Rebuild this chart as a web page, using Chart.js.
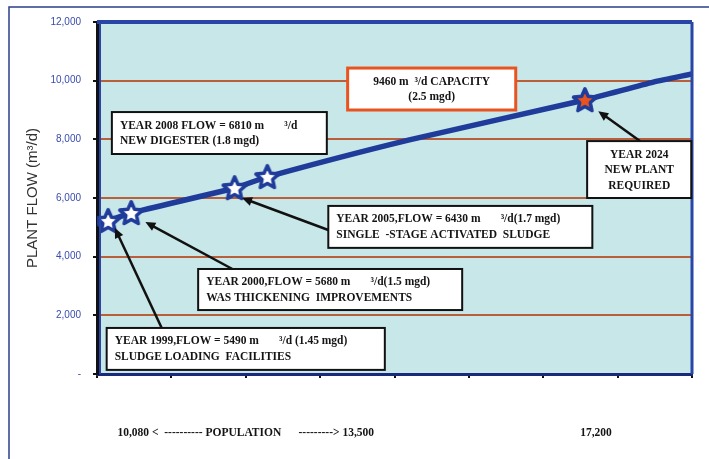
<!DOCTYPE html>
<html>
<head>
<meta charset="utf-8">
<script src="https://cdn.jsdelivr.net/npm/chart.js@4.4.1/dist/chart.umd.min.js"></script>
<style>
    html, body { margin: 0; padding: 0; background: #ffffff; }
    #wrap { width: 709px; height: 459px; }
</style>
</head>
<body>
<div id="wrap"><canvas id="grafico" width="709" height="459"></canvas></div>
<script>
// x runs in tick intervals (0..8) along the population axis
const flowX = [0, 0.15, 0.46, 1.85, 2.29, 4.2, 6.56, 7.48, 8];
const flowY = [5110, 5220, 5490, 6340, 6720, 7980, 9340, 9950, 10230];

const milestoneYears = [1999, 2000, 2005, 2008, 2024];
const milestoneX = [0.15, 0.46, 1.85, 2.29, 6.56];
const milestoneY = [5220, 5490, 6340, 6720, 9340];

const yTicks = [0, 2000, 4000, 6000, 8000, 10000, 12000];

const populationLabels = ['10,080 <  ---------- POPULATION      ---------> 13,500', '17,200'];
const populationX = [2.0, 6.71];

const noteText = [
    ['YEAR 2008 FLOW = 6810 m       \u00b3/d', 'NEW DIGESTER (1.8 mgd)'],
    ['9460 m  \u00b3/d CAPACITY', '(2.5 mgd)'],
    ['YEAR 2024', 'NEW PLANT', 'REQUIRED'],
    ['YEAR 2005,FLOW = 6430 m       \u00b3/d(1.7 mgd)', 'SINGLE  -STAGE ACTIVATED  SLUDGE'],
    ['YEAR 2000,FLOW = 5680 m       \u00b3/d(1.5 mgd)', 'WAS THICKENING  IMPROVEMENTS'],
    ['YEAR 1999,FLOW = 5490 m       \u00b3/d (1.45 mgd)', 'SLUDGE LOADING  FACILITIES']
];

// caixas das notas, em unidades dos eixos: [x1, y1, x2, y2]
const noteBoxes = [
    { box: [0.20, 8930, 3.09, 7500], align: 'left', border: '#111111', width: 2 },
    { box: [3.37, 10430, 5.63, 9000], align: 'center', border: '#e8531f', width: 3 },
    { box: [6.59, 7940, 7.99, 6000], align: 'center', border: '#111111', width: 2 },
    { box: [3.11, 5730, 6.66, 4300], align: 'left', border: '#111111', width: 2 },
    { box: [1.36, 3580, 4.91, 2180], align: 'left', border: '#111111', width: 2 },
    { box: [0.13, 1570, 3.87, 140], align: 'left', border: '#111111', width: 2 }
];

// setas: [x de, y de, x para, y para]
const arrows = [
    [0.87, 1570, 0.24, 4980],
    [1.82, 3580, 0.65, 5180],
    [3.11, 4910, 1.95, 6000],
    [7.30, 7940, 6.74, 8960]
];

function makeStar(fill) {
    const c = document.createElement('canvas');
    c.width = 34;
    c.height = 34;
    const g = c.getContext('2d');
    g.beginPath();
    for (let i = 0; i < 10; i++) {
        const r = i % 2 === 0 ? 12 : 5.6;
        const a = -Math.PI / 2 + i * Math.PI / 5;
        const px = 17 + r * Math.cos(a);
        const py = 17.8 + r * Math.sin(a);
        if (i === 0) g.moveTo(px, py); else g.lineTo(px, py);
    }
    g.closePath();
    g.fillStyle = fill;
    g.fill();
    g.lineJoin = 'round';
    g.lineWidth = 3.5;
    g.strokeStyle = '#1f3c9a';
    g.stroke();
    return c;
}

const starWhite = makeStar('#ffffff');
const starRed = makeStar('#e8531f');

const extras = {
    id: 'extras',
    beforeDraw(chart) {
        const { ctx, chartArea: a } = chart;
        ctx.save();
        ctx.fillStyle = '#c8e7e9';
        ctx.fillRect(a.left, a.top, a.right - a.left, a.bottom - a.top);
        ctx.restore();
    },
    afterDraw(chart) {
        const { ctx, chartArea: a, scales } = chart;
        const sx = scales.x, sy = scales.y;
        ctx.save();

        // bordas azuis do grafico
        ctx.strokeStyle = '#2a45a8';
        ctx.lineWidth = 4;
        ctx.beginPath();
        ctx.moveTo(a.left, a.top);
        ctx.lineTo(a.right, a.top);
        ctx.stroke();
        ctx.lineWidth = 3;
        ctx.beginPath();
        ctx.moveTo(a.right, a.top);
        ctx.lineTo(a.right, a.bottom);
        ctx.stroke();
        ctx.lineWidth = 2;
        ctx.beginPath();
        ctx.moveTo(a.left + 3, a.top);
        ctx.lineTo(a.left + 3, a.bottom);
        ctx.stroke();

        // caixas de texto
        ctx.font = 'bold 11.5px "Liberation Serif", "Times New Roman", serif';
        ctx.textBaseline = 'middle';
        noteBoxes.forEach((n, i) => {
            const x1 = sx.getPixelForValue(n.box[0]);
            const y1 = sy.getPixelForValue(n.box[1]);
            const x2 = sx.getPixelForValue(n.box[2]);
            const y2 = sy.getPixelForValue(n.box[3]);
            ctx.fillStyle = '#ffffff';
            ctx.fillRect(x1, y1, x2 - x1, y2 - y1);
            ctx.strokeStyle = n.border;
            ctx.lineWidth = n.width;
            ctx.strokeRect(x1, y1, x2 - x1, y2 - y1);
            ctx.fillStyle = '#141414';
            ctx.textAlign = n.align;
            const tx = n.align === 'center' ? (x1 + x2) / 2 : x1 + 8;
            noteText[i].forEach((linha, j) => {
                ctx.fillText(linha, tx, y1 + 13.5 + j * 15.5);
            });
        });

        // setas
        ctx.strokeStyle = '#111111';
        ctx.fillStyle = '#111111';
        ctx.lineWidth = 2.5;
        arrows.forEach(s => {
            const x1 = sx.getPixelForValue(s[0]);
            const y1 = sy.getPixelForValue(s[1]);
            const x2 = sx.getPixelForValue(s[2]);
            const y2 = sy.getPixelForValue(s[3]);
            const ang = Math.atan2(y2 - y1, x2 - x1);
            const len = 10;
            ctx.beginPath();
            ctx.moveTo(x1, y1);
            ctx.lineTo(x2 - len * 0.8 * Math.cos(ang), y2 - len * 0.8 * Math.sin(ang));
            ctx.stroke();
            ctx.beginPath();
            ctx.moveTo(x2, y2);
            ctx.lineTo(x2 - len * Math.cos(ang) + 4.5 * Math.sin(ang), y2 - len * Math.sin(ang) - 4.5 * Math.cos(ang));
            ctx.lineTo(x2 - len * Math.cos(ang) - 4.5 * Math.sin(ang), y2 - len * Math.sin(ang) + 4.5 * Math.cos(ang));
            ctx.closePath();
            ctx.fill();
        });

        // legenda da populacao embaixo
        ctx.fillStyle = '#141414';
        ctx.textAlign = 'center';
        ctx.font = 'bold 11.5px "Liberation Serif", "Times New Roman", serif';
        populationLabels.forEach((txt, i) => {
            ctx.fillText(txt, sx.getPixelForValue(populationX[i]), a.bottom + 59);
        });

        // moldura externa
        ctx.strokeStyle = '#2b3f8c';
        ctx.lineWidth = 1.5;
        ctx.beginPath();
        ctx.moveTo(9, chart.height);
        ctx.lineTo(9, 7);
        ctx.lineTo(chart.width, 7);
        ctx.stroke();
        ctx.restore();
    }
};

new Chart(document.getElementById('grafico'), {
    type: 'scatter',
    data: {
        datasets: [{
            data: flowX.map((x, i) => ({ x: x, y: flowY[i] })),
            showLine: true,
            borderColor: '#1f3c9a',
            borderWidth: 5.5,
            pointRadius: 0,
            tension: 0.2,
            order: 2
        }, {
            data: milestoneX.map((x, i) => ({ x: x, y: milestoneY[i] })),
            showLine: false,
            pointStyle: milestoneYears.map(a => a === 2024 ? starRed : starWhite),
            order: 1
        }]
    },
    options: {
        responsive: false,
        animation: false,
        layout: { padding: { left: 24, top: 22, right: 17, bottom: 0 } },
        plugins: {
            legend: { display: false },
            tooltip: { enabled: false }
        },
        scales: {
            x: {
                type: 'linear',
                min: 0,
                max: 8,
                ticks: { stepSize: 1, display: false },
                grid: { drawOnChartArea: false, tickLength: 4, tickColor: '#111111', lineWidth: 2 },
                border: { color: '#1a2a7a', width: 3 },
                afterFit: s => { s.height = 85; }
            },
            y: {
                min: 0,
                max: 12000,
                afterBuildTicks: s => { s.ticks = yTicks.map(v => ({ value: v })); },
                ticks: {
                    color: '#3a4cab',
                    padding: 12,
                    font: { family: 'Liberation Sans, Arial, sans-serif', size: 10 },
                    callback: v => v === 0 ? '-' : v.toLocaleString('en-US')
                },
                grid: {
                    color: '#b9603a',
                    lineWidth: 2,
                    tickLength: 4,
                    tickColor: '#111111'
                },
                border: { color: '#111111', width: 3 },
                title: {
                    display: true,
                    text: 'PLANT FLOW (m\u00b3/d)',
                    color: '#333333',
                    padding: 0,
                    font: { family: 'Liberation Sans, Arial, sans-serif', size: 15 }
                },
                afterFit: s => { s.width = 73; }
            }
        }
    },
    plugins: [extras]
});
</script>
</body>
</html>
